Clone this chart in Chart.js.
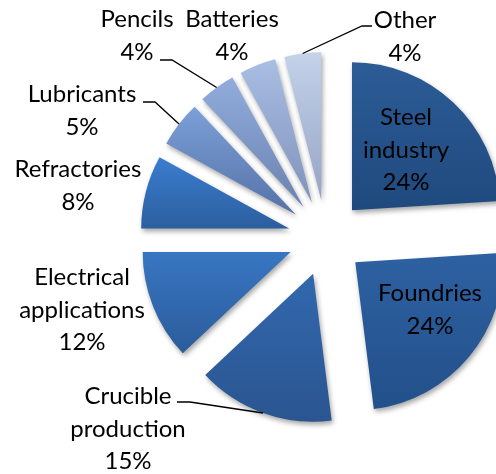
<!DOCTYPE html>
<html><head><meta charset="utf-8">
<script src="https://cdn.jsdelivr.net/npm/chart.js@4.4.0/dist/chart.umd.min.js"></script>
<style>html,body{margin:0;padding:0;background:#fff;overflow:hidden;}</style>
</head><body>
<canvas id="c" width="496" height="474"></canvas>
<script>
// ---- data ----
const categories = ['Steel industry','Foundries','Crucible production','Electrical applications','Refractories','Lubricants','Pencils','Batteries','Other'];
const shares = [24, 24, 15, 12, 8, 5, 4, 4, 4];
const categoryLines = [['Steel','industry'],['Foundries'],['Crucible','production'],['Electrical','applications'],['Refractories'],['Lubricants'],['Pencils'],['Batteries'],['Other']];

// ---- styles / layout ----
const topColors    = ['#2c5b96','#2e61a2','#3268ae','#3876c2','#3a7dd0','#7ca0d8','#91acdc','#a9bee3','#c4d2ea'];
const bottomColors = ['#1f4a7e','#22508a','#2a5590','#2b5c9a','#2c5e9e','#5572a8','#6a82b0','#7f92bc','#95a4c4'];
const RADIUS = 148, EXPLODE = 38, LINE_H = 32.5;
const FONT = '24px Lato, "Open Sans", sans-serif';
// label anchor: center x, first baseline y; leader: [knee, end] or null
const labelLayout = [
  {x:406, y:125, leader:null},
  {x:430, y:301, leader:null},
  {x:128, y:404, leader:[[190,402],[177,402]]},
  {x:82,  y:285, leader:null},
  {x:78,  y:177, leader:null},
  {x:82,  y:102, leader:[[155,102],[143,102]]},
  {x:137, y:27,  leader:[[172,60],[160,60]]},
  {x:232, y:27,  leader:null},
  {x:405, y:28,  leader:[[362,26],[372,26]]}
];

// exploded slices with soft shadow (arc geometry still computed by Chart.js)
const baseDraw = Chart.ArcElement.prototype.draw;
Chart.ArcElement.prototype.draw = function(ctx) {
  const mid = (this.startAngle + this.endAngle) / 2;
  ctx.save();
  ctx.translate(Math.cos(mid) * EXPLODE, Math.sin(mid) * EXPLODE);
  ctx.shadowColor = 'rgba(0,0,0,0.35)';
  ctx.shadowBlur = 5; ctx.shadowOffsetX = 1.5; ctx.shadowOffsetY = 3;
  baseDraw.call(this, ctx);
  ctx.restore();
};

function sliceGradient(context) {
  const chart = context.chart, area = chart.chartArea, i = context.dataIndex;
  if (!area) return topColors[i];
  const cy = (area.top + area.bottom) / 2;
  const total = shares.reduce((a, b) => a + b, 0);
  let cum = 0; for (let k = 0; k < i; k++) cum += shares[k];
  const a0 = -Math.PI/2 + 2*Math.PI*cum/total, a1 = a0 + 2*Math.PI*shares[i]/total;
  let minY = cy, maxY = cy;
  const consider = a => { const y = cy + RADIUS*Math.sin(a); minY = Math.min(minY, y); maxY = Math.max(maxY, y); };
  consider(a0); consider(a1);
  if (a0 < Math.PI/2 && a1 > Math.PI/2) consider(Math.PI/2);
  const g = chart.ctx.createLinearGradient(0, minY, 0, maxY);
  g.addColorStop(0, topColors[i]); g.addColorStop(1, bottomColors[i]);
  return g;
}

const labelsPlugin = {
  id: 'sliceLabels',
  afterDatasetsDraw(chart) {
    const ctx = chart.ctx, meta = chart.getDatasetMeta(0);
    ctx.save();
    ctx.font = FONT; ctx.fillStyle = '#000'; ctx.textAlign = 'center'; ctx.textBaseline = 'alphabetic';
    meta.data.forEach((arc, i) => {
      const L = labelLayout[i];
      const lines = categoryLines[i].concat([shares[i] + '%']);
      lines.forEach((t, j) => ctx.fillText(t, L.x, L.y + j*LINE_H));
      if (L.leader) {
        const mid = (arc.startAngle + arc.endAngle) / 2;
        const px = arc.x + Math.cos(mid)*(EXPLODE + arc.outerRadius);
        const py = arc.y + Math.sin(mid)*(EXPLODE + arc.outerRadius);
        ctx.beginPath(); ctx.strokeStyle = '#000'; ctx.lineWidth = 1.3;
        ctx.moveTo(px, py); ctx.lineTo(L.leader[0][0], L.leader[0][1]); ctx.lineTo(L.leader[1][0], L.leader[1][1]);
        ctx.stroke();
      }
    });
    ctx.restore();
  }
};

new Chart(document.getElementById('c'), {
  type: 'pie',
  data: { labels: categories, datasets: [{ data: shares, backgroundColor: sliceGradient, borderWidth: 0, clip: false }] },
  options: {
    responsive: false, devicePixelRatio: 1, animation: false,
    radius: RADIUS,
    layout: { padding: { left: 156, right: 0, top: 2, bottom: 0 } },
    plugins: { legend: { display: false }, tooltip: { enabled: false } },
    events: []
  },
  plugins: [labelsPlugin]
});
</script>
</body></html>
